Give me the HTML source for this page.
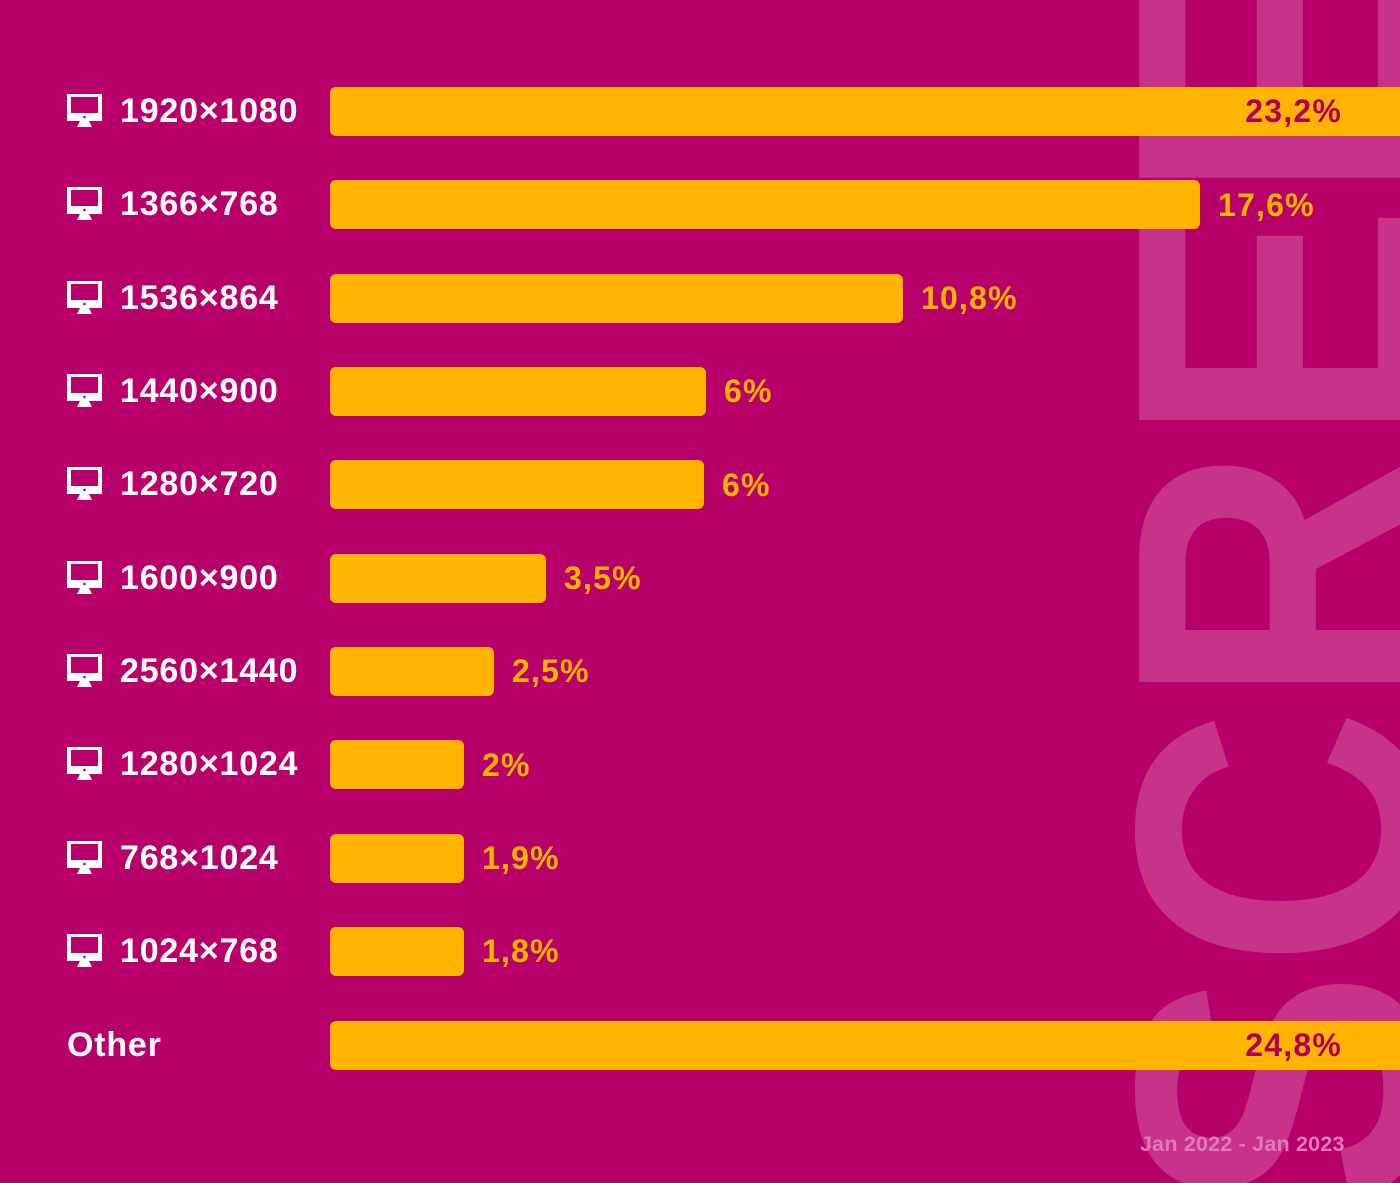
<!DOCTYPE html>
<html><head><meta charset="utf-8"><style>
html,body{margin:0;padding:0}
body{width:1400px;height:1183px;background:#b8006b;position:relative;overflow:hidden;font-family:"Liberation Sans",sans-serif}
.bg{position:absolute;left:0;top:0}
.bar{position:absolute;left:330px;height:49px;background:#ffb400;border-radius:6px}
.lbl{position:absolute;left:120px;color:#fff;font-weight:bold;font-size:34px;line-height:40px;letter-spacing:0.8px}
.val{position:absolute;color:#ffb400;font-weight:bold;font-size:32px;line-height:40px;letter-spacing:1.2px}
.in{color:#b0005f}
.ic{position:absolute;left:66px}
</style></head><body>
<svg class="bg" width="1400" height="1183">
<text transform="translate(1424,1210) rotate(-90) scale(1,1.15)" font-family="Liberation Sans, sans-serif" font-weight="bold" font-size="360" fill="#ffffff" fill-opacity="0.2" letter-spacing="2">SCREEN</text>
</svg>
<svg width="0" height="0" style="position:absolute"><defs><symbol id="m" viewBox="0 0 36 36"><rect x="1" y="1" width="35" height="27" fill="#fff"/><rect x="5" y="4" width="27" height="16" fill="#b8006b"/><circle cx="18.5" cy="24" r="1.3" fill="#b8006b"/><path d="M14 28h9l3 6h-15z" fill="#fff"/></symbol></defs></svg>

<div class="bar" style="top:87px;width:1080px"></div>
<div class="bar" style="top:180px;width:870px"></div>
<div class="bar" style="top:274px;width:573px"></div>
<div class="bar" style="top:367px;width:376px"></div>
<div class="bar" style="top:460px;width:374px"></div>
<div class="bar" style="top:554px;width:216px"></div>
<div class="bar" style="top:647px;width:164px"></div>
<div class="bar" style="top:740px;width:134px"></div>
<div class="bar" style="top:834px;width:134px"></div>
<div class="bar" style="top:927px;width:134px"></div>
<div class="bar" style="top:1021px;width:1080px"></div>

<svg class="ic" style="top:93px" width="36" height="36"><use href="#m"/></svg>
<svg class="ic" style="top:186px" width="36" height="36"><use href="#m"/></svg>
<svg class="ic" style="top:280px" width="36" height="36"><use href="#m"/></svg>
<svg class="ic" style="top:373px" width="36" height="36"><use href="#m"/></svg>
<svg class="ic" style="top:466px" width="36" height="36"><use href="#m"/></svg>
<svg class="ic" style="top:560px" width="36" height="36"><use href="#m"/></svg>
<svg class="ic" style="top:653px" width="36" height="36"><use href="#m"/></svg>
<svg class="ic" style="top:746px" width="36" height="36"><use href="#m"/></svg>
<svg class="ic" style="top:840px" width="36" height="36"><use href="#m"/></svg>
<svg class="ic" style="top:933px" width="36" height="36"><use href="#m"/></svg>

<div class="lbl" style="top:91px">1920×1080</div>
<div class="lbl" style="top:184px">1366×768</div>
<div class="lbl" style="top:278px">1536×864</div>
<div class="lbl" style="top:371px">1440×900</div>
<div class="lbl" style="top:464px">1280×720</div>
<div class="lbl" style="top:558px">1600×900</div>
<div class="lbl" style="top:651px">2560×1440</div>
<div class="lbl" style="top:744px">1280×1024</div>
<div class="lbl" style="top:838px">768×1024</div>
<div class="lbl" style="top:931px">1024×768</div>
<div class="lbl" style="top:1025px;left:67px">Other</div>

<div class="val in" style="top:91px;right:58px">23,2%</div>
<div class="val" style="top:185px;left:1218px">17,6%</div>
<div class="val" style="top:278px;left:921px">10,8%</div>
<div class="val" style="top:371px;left:724px">6%</div>
<div class="val" style="top:465px;left:722px">6%</div>
<div class="val" style="top:558px;left:564px">3,5%</div>
<div class="val" style="top:651px;left:512px">2,5%</div>
<div class="val" style="top:745px;left:482px">2%</div>
<div class="val" style="top:838px;left:482px">1,9%</div>
<div class="val" style="top:931px;left:482px">1,8%</div>
<div class="val in" style="top:1025px;right:58px">24,8%</div>

<div style="position:absolute;left:1140px;top:1130px;font-size:21.5px;font-weight:bold;color:#e07ab8;line-height:28px;letter-spacing:0.2px">Jan 2022 - Jan 2023</div>
</body></html>
